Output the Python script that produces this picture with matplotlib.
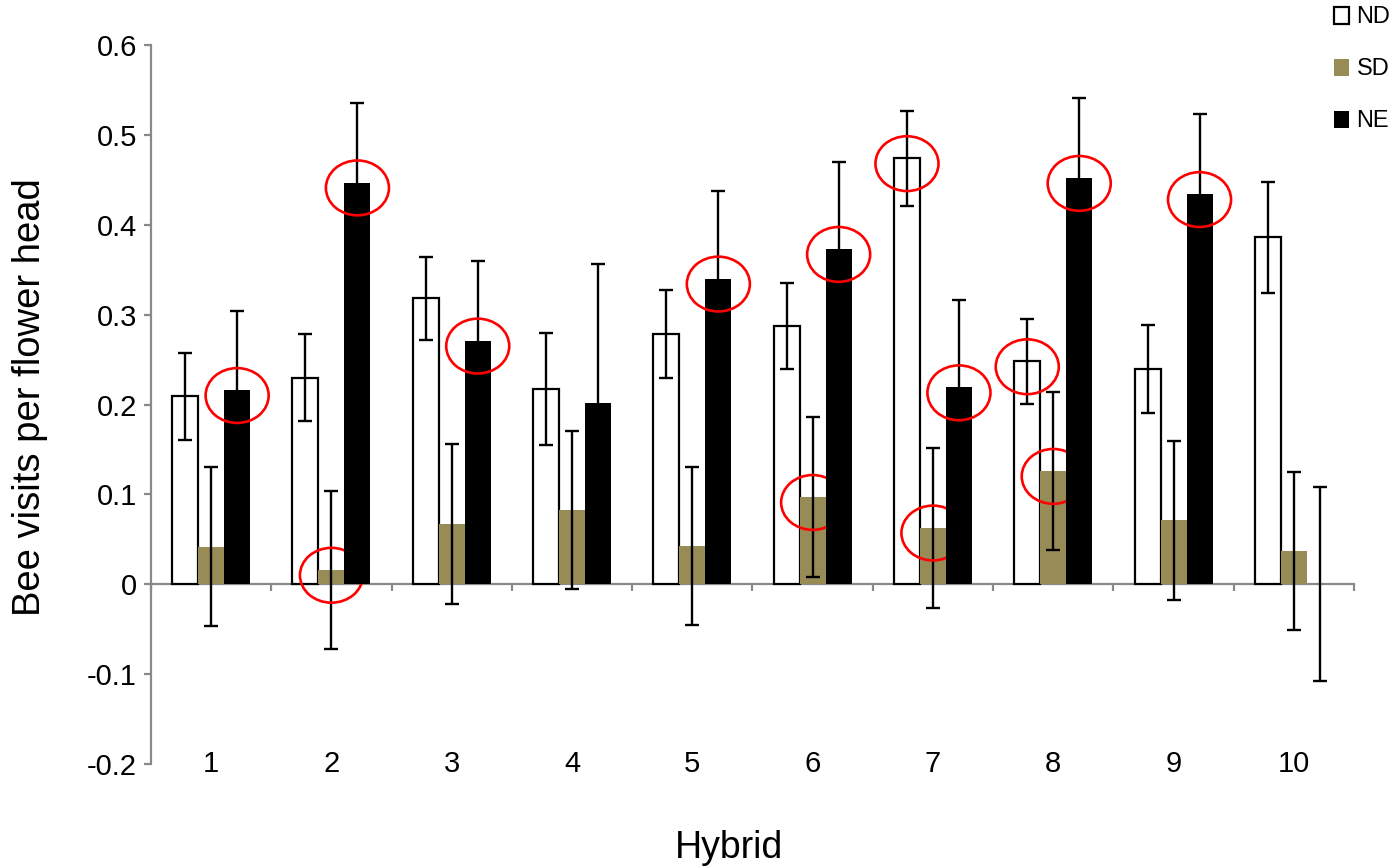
import numpy as np
import matplotlib
matplotlib.use('Agg')
import matplotlib.pyplot as plt
from matplotlib.patches import Ellipse, Patch

plt.rcParams['font.family'] = ['Liberation Sans', 'DejaVu Sans']
plt.rcParams['axes.unicode_minus'] = False

# data
hybrids = ['1', '2', '3', '4', '5', '6', '7', '8', '9', '10']
series = ['ND', 'SD', 'NE']
nd = [0.209, 0.230, 0.318, 0.217, 0.278, 0.287, 0.474, 0.248, 0.239, 0.386]
nd_err = [0.048, 0.048, 0.046, 0.062, 0.049, 0.048, 0.053, 0.047, 0.049, 0.062]
sd = [0.042, 0.016, 0.067, 0.083, 0.043, 0.097, 0.063, 0.126, 0.071, 0.037]
sd_err = [0.088, 0.088, 0.089, 0.088, 0.088, 0.089, 0.089, 0.088, 0.088, 0.088]
ne = [0.216, 0.447, 0.271, 0.202, 0.340, 0.373, 0.219, 0.452, 0.434, 0.0]
ne_err = [0.088, 0.088, 0.089, 0.154, 0.097, 0.097, 0.097, 0.089, 0.089, 0.108]
yticks = [-0.2, -0.1, 0, 0.1, 0.2, 0.3, 0.4, 0.5, 0.6]

# bars highlighted with red rings: (hybrid, series)
circled = [('1', 'NE'), ('2', 'SD'), ('2', 'NE'), ('3', 'NE'), ('5', 'NE'),
           ('6', 'SD'), ('6', 'NE'), ('7', 'ND'), ('7', 'SD'), ('7', 'NE'),
           ('8', 'ND'), ('8', 'SD'), ('8', 'NE'), ('9', 'NE')]

values = {'ND': nd, 'SD': sd, 'NE': ne}
errors = {'ND': nd_err, 'SD': sd_err, 'NE': ne_err}
styles = {'ND': dict(color='white', edgecolor='black', linewidth=1.6),
          'SD': dict(color='#978c55', edgecolor='none'),
          'NE': dict(color='black', edgecolor='none')}

fig = plt.figure(figsize=(13.95, 8.68), dpi=100)
ax = fig.add_axes([151/1395, 1 - 764/868, 1203/1395, 719/868])

x = np.arange(1, len(hybrids) + 1)
w = 0.216
gray = '#898989'

for k, s in enumerate(series):
    z = 2 + k
    pos = x + (k - 1) * w
    ax.bar(pos, values[s], w, yerr=errors[s], zorder=z,
           error_kw=dict(ecolor='black', elinewidth=1.7, capsize=4.8,
                         capthick=1.7, zorder=z + 0.2),
           **styles[s])
    for h, cs in circled:
        if cs != s:
            continue
        i = hybrids.index(h)
        ax.add_patch(Ellipse((pos[i], values[s][i] - 0.006), 0.524, 0.061,
                             fill=False, edgecolor='red', linewidth=1.9,
                             zorder=z + 0.5))

ax.set_xlim(0.5, len(hybrids) + 0.5)
ax.set_ylim(-0.2, 0.6)

ax.spines['top'].set_visible(False)
ax.spines['right'].set_visible(False)
ax.spines['bottom'].set_position(('data', 0))
for sp in ['left', 'bottom']:
    ax.spines[sp].set_color(gray)
    ax.spines[sp].set_linewidth(1.6)
    ax.spines[sp].set_zorder(1.5)

ax.set_yticks(yticks)
ax.set_yticklabels(['%g' % v for v in yticks])
ax.tick_params(axis='y', direction='out', length=5, width=1.6, color=gray,
               pad=5, labelsize=21)
ax.set_xticks(np.arange(0.5, len(hybrids) + 1, 1))
ax.set_xticklabels([])
ax.tick_params(axis='x', direction='out', length=5, width=1.6, color=gray)

for xi, lab in zip(x, hybrids):
    ax.text(xi, -0.2, lab, ha='center', va='center', fontsize=21)

fig.text(30/1395, 1 - 397/868, 'Bee visits per flower head', rotation=90,
         ha='center', va='center', fontsize=27.5)
fig.text(729.5/1395, 1 - 858/868, 'Hybrid', ha='center', va='baseline',
         fontsize=27)

handles = [Patch(facecolor='white', edgecolor='black', linewidth=1.6),
           Patch(facecolor='#978c55'), Patch(facecolor='black')]
fig.legend(handles, series, loc='upper right', bbox_to_anchor=(1.0, 0.998),
           frameon=False, fontsize=17, handlelength=0.65, handleheight=0.75,
           handletextpad=0.3, labelspacing=1.27, borderpad=0.2,
           borderaxespad=0.0)

fig.savefig('out.png', dpi=100, facecolor='white')
